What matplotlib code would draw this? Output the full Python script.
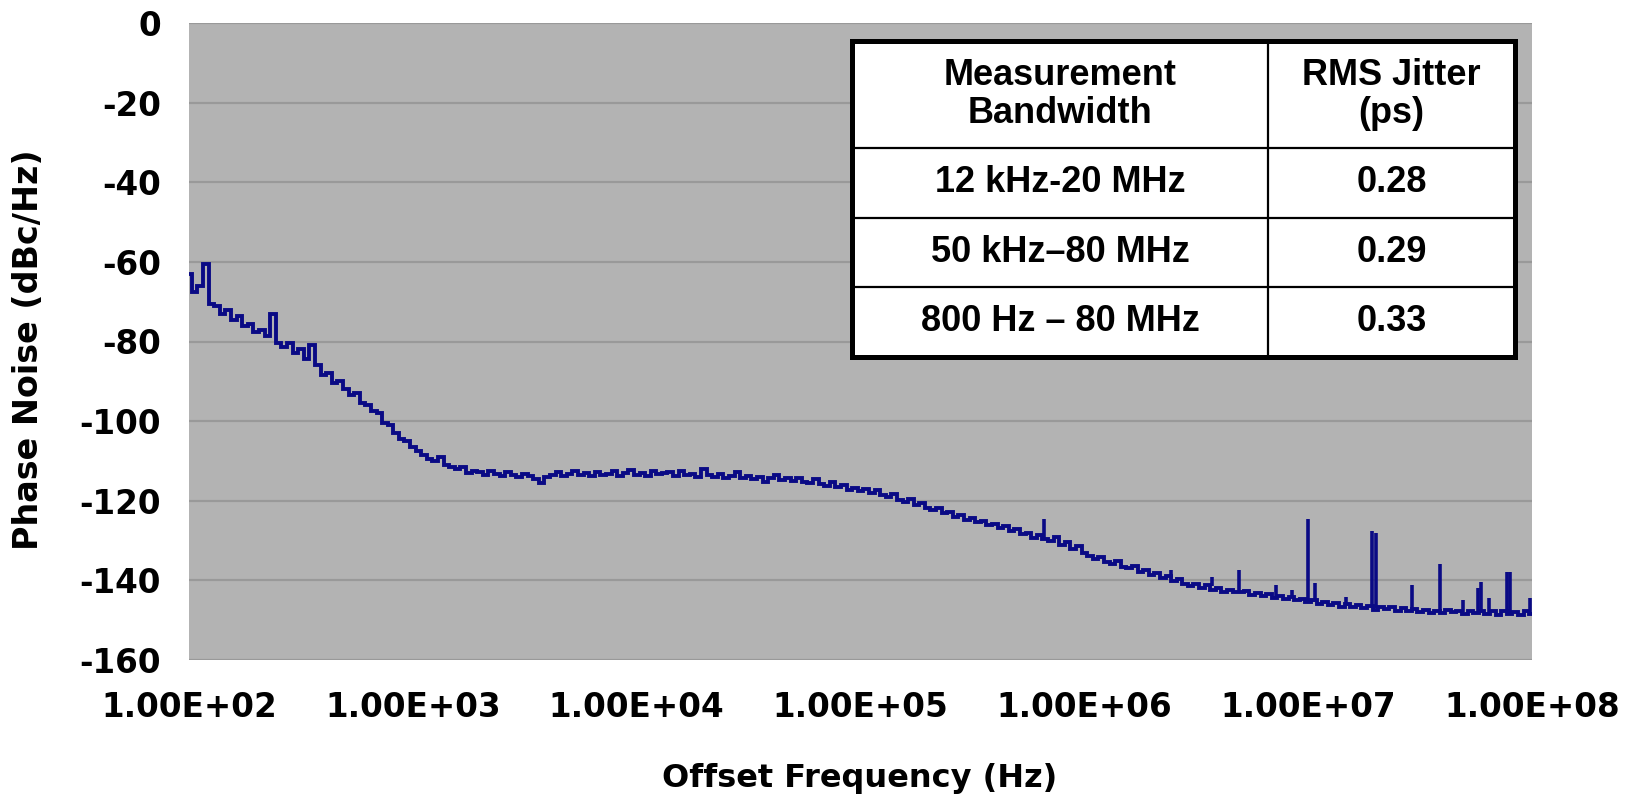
import numpy as np
import matplotlib
matplotlib.use("Agg")
import matplotlib.pyplot as plt
from matplotlib.ticker import FuncFormatter, FixedLocator
from matplotlib.patches import Rectangle
from matplotlib.lines import Line2D

plt.rcParams['axes.unicode_minus'] = False

# ---------------- data ----------------
# sweep: 241 log-spaced offset frequencies from 100 Hz to 100 MHz (0.025 decade step)
sweep_start_hz = 1e2
sweep_stop_hz = 1e8
sweep_points = 241

noise_dec2 = [-63.0, -67.5, -66.0, -60.5, -70.5, -71.0, -73.0, -72.0, -74.5, -73.5,
              -76.0, -75.5, -77.5, -77.0, -78.5, -73.0, -80.5, -81.5, -80.5, -83.0,
              -82.0, -84.5, -81.0, -86.0, -88.5, -88.0, -90.5, -90.0, -92.0, -93.5,
              -93.0, -95.5, -96.0, -97.5, -98.0, -100.5, -101.0, -103.0, -104.5, -105.0]
noise_dec3 = [-106.5, -107.5, -108.5, -109.5, -110.0, -109.0, -111.0, -111.5, -112.0, -111.5,
              -113.0, -112.5, -112.8, -113.5, -112.5, -113.2, -113.8, -112.8, -113.5, -114.0,
              -113.2, -113.8, -114.5, -115.5, -114.0, -113.5, -112.8, -113.8, -113.2, -112.5,
              -113.5, -113.0, -113.8, -112.8, -113.5, -113.2, -112.5, -113.8, -113.0, -112.2]
noise_dec4 = [-113.5, -113.0, -113.8, -112.6, -113.4, -113.0, -112.8, -113.8, -112.5, -113.5,
              -113.2, -114.0, -112.0, -113.6, -114.0, -113.2, -114.2, -113.8, -112.8, -114.4,
              -113.8, -114.6, -114.0, -115.2, -114.2, -113.6, -114.8, -114.2, -115.0, -114.4,
              -115.2, -115.6, -114.6, -115.8, -116.2, -115.4, -116.6, -116.0, -117.4, -116.8]
noise_dec5 = [-117.6, -117.0, -118.0, -117.4, -118.6, -119.0, -118.4, -119.8, -120.2, -119.6,
              -121.0, -120.6, -121.8, -122.4, -121.8, -123.2, -122.8, -124.0, -123.6, -124.8,
              -124.4, -125.4, -125.0, -126.2, -125.8, -126.8, -126.4, -127.6, -127.2, -128.4,
              -128.0, -129.4, -128.6, -129.6, -130.0, -129.2, -131.0, -130.4, -132.0, -131.4]
noise_dec6 = [-133.2, -133.8, -134.6, -134.2, -135.4, -135.8, -135.2, -136.6, -137.0, -136.4,
              -137.8, -137.4, -138.6, -138.2, -139.4, -139.0, -140.2, -139.6, -140.8, -141.4,
              -140.8, -141.8, -141.2, -142.4, -141.8, -142.8, -142.4, -142.9, -143.0, -142.6,
              -143.6, -143.2, -144.0, -143.4, -144.4, -143.8, -144.8, -144.2, -145.0, -144.6]
noise_dec7 = [-145.4, -145.0, -146.0, -145.4, -146.2, -145.8, -146.6, -146.0, -146.8, -146.2,
              -147.0, -146.4, -147.4, -146.6, -147.2, -146.8, -147.6, -147.0, -147.8, -147.2,
              -148.0, -147.4, -148.2, -147.6, -148.2, -147.4, -148.0, -147.6, -148.4, -147.8,
              -148.2, -147.6, -148.4, -147.8, -148.6, -147.8, -148.4, -148.0, -148.6, -147.8,
              -148.4]

# spurs (Hz, top dBc/Hz, floor dBc/Hz)
spur_freq = [6.6e5, 2.45e6, 3.7e6, 4.9e6, 7.2e6, 8.5e6, 1.0e7, 1.07e7, 1.48e7, 1.93e7,
             2.0e7, 2.9e7, 3.9e7, 4.9e7, 5.75e7, 5.9e7, 6.45e7, 7.7e7, 7.95e7, 9.8e7]
spur_top = [-124.6, -137.5, -139.2, -137.4, -141.2, -142.4, -124.6, -140.7, -144.2, -127.6,
            -128.2, -141.2, -135.9, -145.0, -142.0, -140.4, -144.5, -137.9, -137.9, -144.5]
spur_floor = [-129.4, -139.5, -141.5, -142.8, -144.2, -144.5, -145.4, -145.4, -146.4, -147.0,
              -147.0, -147.6, -148.0, -148.0, -148.0, -148.0, -148.2, -148.3, -148.3, -148.4]

y_ticks = [0, -20, -40, -60, -80, -100, -120, -140, -160]
x_ticks = [1e2, 1e3, 1e4, 1e5, 1e6, 1e7, 1e8]

table_header = ["Measurement\nBandwidth", "RMS Jitter\n(ps)"]
table_bandwidth = ["12 kHz-20 MHz", "50 kHz\u201380 MHz", "800 Hz \u2013 80 MHz"]
table_jitter = ["0.28", "0.29", "0.33"]

# ---------------- figure ----------------
W, H = 1637, 796
fig = plt.figure(figsize=(W / 100, H / 100), dpi=100)
L, R, T, B = 189, 1532, 23, 660
ax = fig.add_axes([L / W, 1 - B / H, (R - L) / W, (B - T) / H])

freq = np.logspace(np.log10(sweep_start_hz), np.log10(sweep_stop_hz), sweep_points)
noise = noise_dec2 + noise_dec3 + noise_dec4 + noise_dec5 + noise_dec6 + noise_dec7

line_color = '#0a0a85'
ax.plot(freq, noise, color=line_color, lw=2.8, drawstyle='steps-mid',
        solid_joinstyle='miter', zorder=3)
ax.vlines(spur_freq, spur_floor, spur_top, color=line_color, lw=2.6, zorder=3)

ax.set_xscale('log')
ax.set_xlim(1e2, 1e8)
ax.set_ylim(-160, 0)
ax.set_facecolor('#b3b3b3')
for s in ax.spines.values():
    s.set_visible(False)

ax.xaxis.set_major_locator(FixedLocator(x_ticks))
ax.xaxis.set_minor_locator(FixedLocator([]))
ax.xaxis.set_major_formatter(FuncFormatter(lambda v, p: f"{v:.2E}"))
ax.yaxis.set_major_locator(FixedLocator(y_ticks))
ax.yaxis.set_major_formatter(FuncFormatter(lambda v, p: f"{int(round(v))}"))
ax.tick_params(axis='both', length=0, labelsize=23.5)
ax.tick_params(axis='x', pad=22)
ax.tick_params(axis='y', pad=20)
for lab in ax.get_xticklabels() + ax.get_yticklabels():
    lab.set_fontweight('bold')
ax.yaxis.grid(True, color='#999999', lw=1.6, zorder=1)
ax.set_axisbelow(True)

fig.text(860 / W, 1 - 778 / H, "Offset Frequency (Hz)", ha='center', va='center',
         fontsize=23, fontweight='bold')
fig.text(29 / W, 1 - 350 / H, "Phase Noise (dBc/Hz)", ha='center', va='center',
         rotation=90, fontsize=24, fontweight='bold')

# ---------------- table ----------------
def fx(px):
    return px / W

def fy(py):
    return 1 - py / H

tx0, tx1, tcol = 852, 1515, 1268
ty0, ty1 = 41, 357
row_edges = [41, 148, 218, 287, 357]

fig.add_artist(Rectangle((fx(tx0), fy(ty1)), fx(tx1) - fx(tx0), fy(ty0) - fy(ty1),
                         transform=fig.transFigure, facecolor='white', edgecolor='black',
                         lw=3.6, zorder=5))
fig.add_artist(Line2D([fx(tcol), fx(tcol)], [fy(ty0), fy(ty1)], transform=fig.transFigure,
                      color='black', lw=1.6, zorder=6))
for ry in row_edges[1:-1]:
    fig.add_artist(Line2D([fx(tx0), fx(tx1)], [fy(ry), fy(ry)], transform=fig.transFigure,
                          color='black', lw=1.6, zorder=6))

c1 = (tx0 + tcol) / 2
c2 = (tcol + tx1) / 2
tfont = dict(family=['Liberation Sans', 'DejaVu Sans'], fontweight='bold', fontsize=26,
             ha='center', va='center', zorder=7)
fig.text(fx(c1), fy((row_edges[0] + row_edges[1]) / 2), table_header[0], linespacing=1.1, **tfont)
fig.text(fx(c2), fy((row_edges[0] + row_edges[1]) / 2), table_header[1], linespacing=1.1, **tfont)
for i, (bw, jt) in enumerate(zip(table_bandwidth, table_jitter)):
    yc = (row_edges[i + 1] + row_edges[i + 2]) / 2
    fig.text(fx(c1), fy(yc), bw, **tfont)
    fig.text(fx(c2), fy(yc), jt, **tfont)

fig.savefig('out.png', dpi=100)
